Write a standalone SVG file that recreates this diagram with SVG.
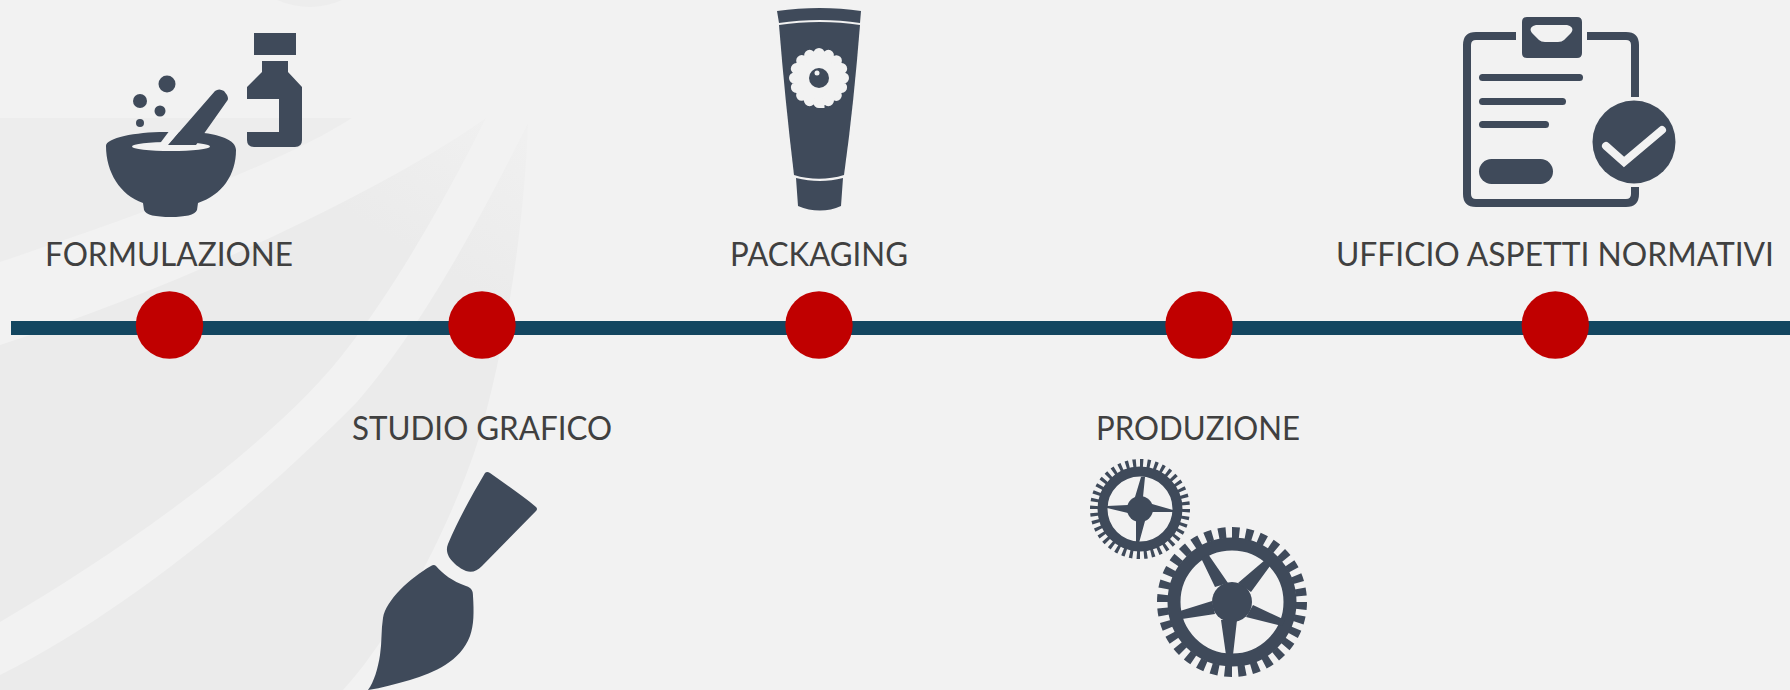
<svg xmlns="http://www.w3.org/2000/svg" width="1790" height="690" viewBox="0 0 1790 690">
<style>
.bgs{fill:url(#bgfade)}
.bga{fill:#ededed}
.ic{fill:#3f4a5a}
.ln{fill:none;stroke:#3f4a5a}
.lt{fill:#f2f2f2}
.lb{font-family:"Lato","Open Sans","Liberation Sans",sans-serif;font-size:32px;fill:#404040;text-anchor:middle}
.dot{fill:#c00000}
</style>
<defs>
<linearGradient id="bgfade" gradientUnits="userSpaceOnUse" x1="490" y1="118" x2="410" y2="250">
<stop offset="0" stop-color="#f0f0f0"/><stop offset="1" stop-color="#ebebeb"/>
</linearGradient>
</defs>
<rect width="1790" height="690" fill="#f2f2f2"/>
<g id="background">
<path class="bga" d="M277 0Q310 14 342 0Z"/>
<path class="bga" d="M0 118H352C290 158 170 205 0 262Z"/>
<path class="bgs" d="M486 118C400 180 200 280 0 345V622C120 552 280 440 350 345C400 280 450 190 486 118Z"/>
<path class="bgs" d="M528 123C525 210 510 330 479 438C450 530 390 640 343 690H0V675C130 610 260 500 357 402C420 330 480 220 528 123Z"/>
</g>
<g id="connectors">
<rect x="11" y="321" width="1779" height="14" fill="#134660"/>
</g>
<g id="dot-1"><circle class="dot" cx="169.500" cy="325" r="33.700"/></g>
<g id="dot-2"><circle class="dot" cx="482" cy="325" r="33.700"/></g>
<g id="dot-3"><circle class="dot" cx="819" cy="325" r="33.700"/></g>
<g id="dot-4"><circle class="dot" cx="1199" cy="325" r="33.700"/></g>
<g id="dot-5"><circle class="dot" cx="1555.300" cy="325" r="33.700"/></g>
<g id="formulazione">
<text class="lb" x="169" y="266" textLength="248" lengthAdjust="spacingAndGlyphs">FORMULAZIONE</text>
<path class="ic" d="M254 33H296V55H254Z"/>
<path class="ic" d="M262 61H288V72L302 87V140Q302 147 295 147H254Q247 147 247 140V132H279V99H247V87L262 72Z"/>
<circle class="ic" cx="167" cy="84" r="8.500"/><circle class="ic" cx="140" cy="101" r="7"/><circle class="ic" cx="160" cy="111" r="5.500"/><circle class="ic" cx="140" cy="123" r="4"/>
<path class="ic" d="M106 146C106 138 135 132 165 132H195C220 134 236 140 236 150C236 175 222 195 198 203L197 210C195 215 185 217 171 217C155 217 146 215 144 210L143 203C120 195 106 172 106 146Z"/>
<ellipse class="lt" cx="171" cy="146.500" rx="39" ry="4.500"/>
<path class="lt" d="M170 130H181L168 146H158Z"/>
<path class="ic" d="M168 145L215 91Q219 88 224 91L227 95Q229 99 227 101L196 145Z"/>
</g>
<g id="studio-grafico">
<text class="lb" x="482" y="440" textLength="260" lengthAdjust="spacingAndGlyphs">STUDIO GRAFICO</text>
<path class="ic" d="M485 473Q487 471 490 473C505 484 522 495 536 507Q538 509 536 511L482 566C477 571 472 573 466 571C459 568 453 563 449 557C447 553 446 549 448 544C458 520 472 495 485 473Z"/>
<path class="ic" d="M431 566Q434 564 436 566C443 574 452 581 466 586C472 588 473 591 473 596C474 612 474 625 470 636C460 662 435 672 410 680C395 684 382 688 368 690C374 682 378 668 380 655C382 642 381 630 383 618C386 600 410 578 431 566Z"/>
</g>
<g id="packaging">
<text class="lb" x="819" y="266" textLength="178" lengthAdjust="spacingAndGlyphs">PACKAGING</text>
<path class="ic" d="M777 11C805 7 835 7 861 11L860 23C835 19 805 19 779 23Z"/>
<path class="ic" d="M779 25C805 21 835 21 860 25C856 75 851 125 844 175C828 180 810 180 794 175C788 125 783 75 779 25Z"/>
<path class="ic" d="M796 178C812 182 828 182 843 178L841 206C828 212 812 212 798 206Z"/>
<circle class="lt" cx="819" cy="78" r="23"/>
<circle cx="819" cy="78" r="24.500" fill="none" stroke="#f2f2f2" stroke-width="11" stroke-linecap="round" pathLength="16" stroke-dasharray="0.01 0.99"/>
<circle class="ic" cx="819" cy="78" r="10"/>
<circle class="lt" cx="817" cy="73" r="2.500"/>
</g>
<g id="produzione">
<text class="lb" x="1198" y="440" textLength="204" lengthAdjust="spacingAndGlyphs">PRODUZIONE</text>
<circle class="ln" cx="1140" cy="509" r="37.500" stroke-width="10"/>
<circle class="ln" cx="1140" cy="509" r="45.500" stroke-width="9" pathLength="40" stroke-dasharray="0.45 0.55"/>
<circle class="ic" cx="1140" cy="509" r="13"/>
<path class="ic" d="M1135 497H1143L1145 477H1141ZM1152 504V512L1173 512V510ZM1136 521H1145L1139 543H1136ZM1128 505V513L1107 508V506Z"/>
<circle class="ln" cx="1232" cy="602" r="58" stroke-width="13"/>
<circle class="ln" cx="1232" cy="602" r="69.500" stroke-width="11" pathLength="32" stroke-dasharray="0.55 0.45"/>
<circle class="ic" cx="1232" cy="602" r="20"/>
<path class="ic" d="M1215 587L1228 583L1208 554L1201 558ZM1238 583L1251 592L1270 566L1265 560ZM1253 605L1246 617L1282 626L1285 620ZM1221 620L1237 620L1233 655L1226 655ZM1212 601L1215 614L1182 619L1180 611Z"/>
</g>
<g id="ufficio">
<text class="lb" x="1555" y="266" textLength="438" lengthAdjust="spacingAndGlyphs">UFFICIO ASPETTI NORMATIVI</text>
<path class="ln" stroke-width="8" d="M1516 36H1476Q1467 36 1467 45V194Q1467 203 1476 203H1626Q1635 203 1635 194V187M1587 36H1626Q1635 36 1635 45V97"/>
<path class="ic" fill-rule="evenodd" d="M1527 17H1577Q1582 17 1582 22V53Q1582 58 1577 58H1527Q1522 58 1522 53V22Q1522 17 1527 17ZM1536 25C1531 26 1529 29 1532 33L1539 40Q1541 42 1545 42H1558Q1562 42 1564 40L1571 33C1574 29 1572 26 1567 25Z"/>
<rect class="ic" x="1479" y="74" width="104" height="7" rx="3.500"/>
<rect class="ic" x="1479" y="98" width="87" height="7" rx="3.500"/>
<rect class="ic" x="1479" y="121" width="70" height="7" rx="3.500"/>
<rect class="ic" x="1479" y="159" width="74" height="25" rx="12.500"/>
<circle class="ic" cx="1634" cy="142" r="41.500"/>
<path d="M1606 146L1624 162L1662 130" fill="none" stroke="#f2f2f2" stroke-width="8" stroke-linecap="round" stroke-linejoin="miter"/>
</g>
</svg>
